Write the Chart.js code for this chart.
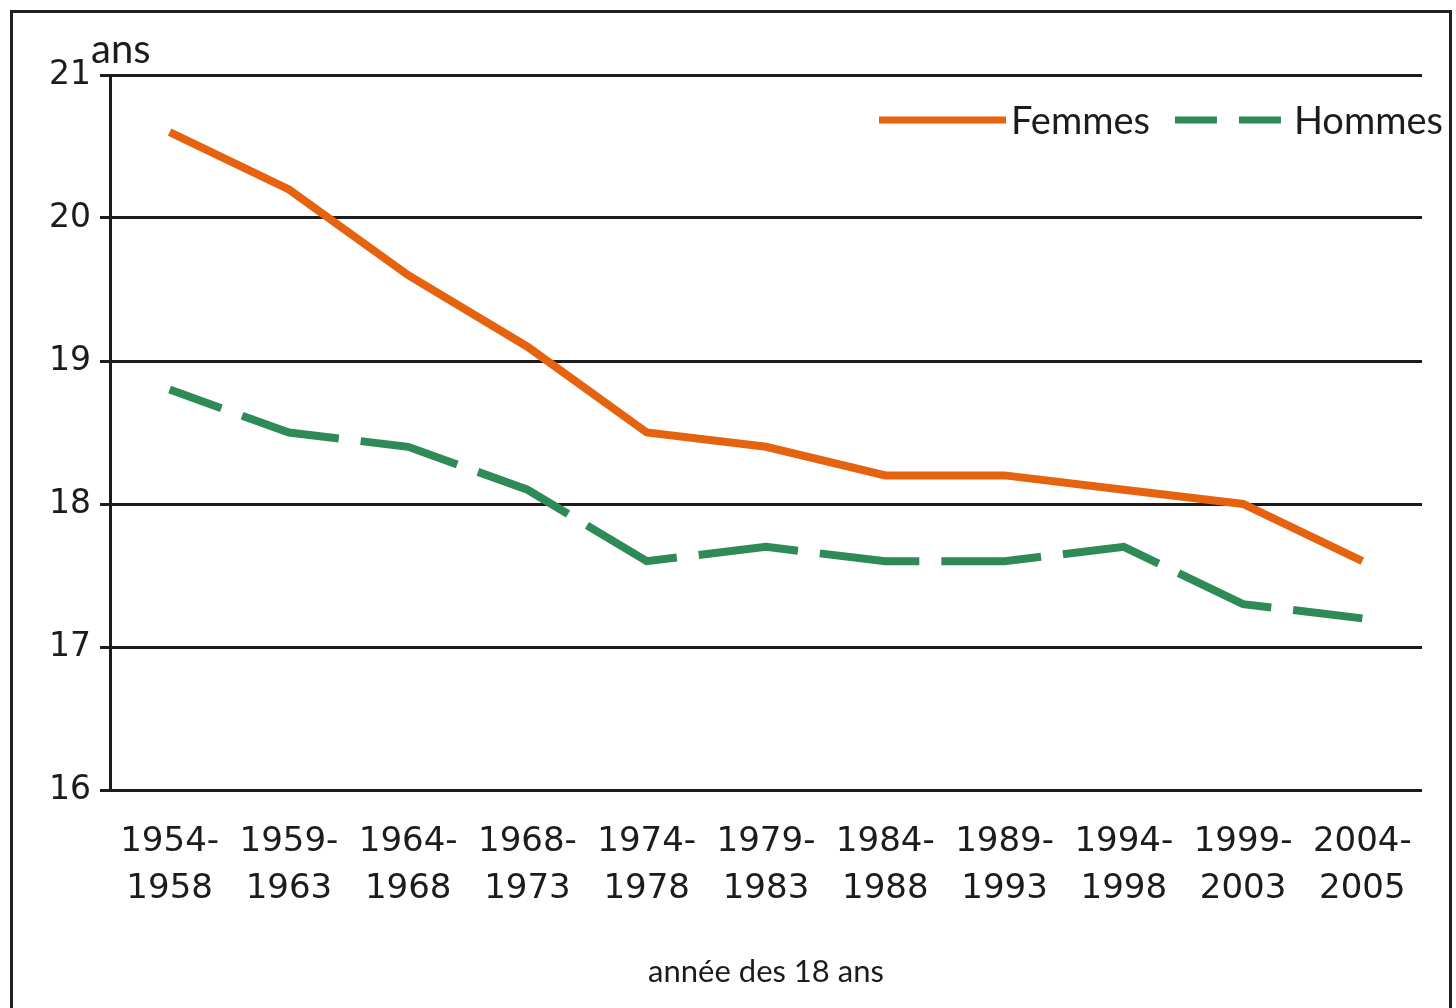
<!DOCTYPE html>
<html>
<head>
<meta charset="utf-8">
<script src="https://cdn.jsdelivr.net/npm/chart.js@4.4.0/dist/chart.umd.min.js"></script>
<style>
  html, body { margin: 0; padding: 0; background: #fff; }
  #wrap { position: relative; width: 1456px; height: 1008px; overflow: hidden; }
  #frame { position: absolute; left: 10px; top: 10px; width: 1442px; height: 1030px; border: 3px solid #222; box-sizing: border-box; }
  canvas { position: absolute; left: 0; top: 0; }
</style>
</head>
<body>
<div id="wrap">
  <div id="frame"></div>
  <canvas id="myChart" width="1456" height="1008"></canvas>
</div>
<script>
// données
const periodes = [
  ['1954-', '1958'], ['1959-', '1963'], ['1964-', '1968'], ['1968-', '1973'],
  ['1974-', '1978'], ['1979-', '1983'], ['1984-', '1988'], ['1989-', '1993'],
  ['1994-', '1998'], ['1999-', '2003'], ['2004-', '2005']
];
const femmes = [20.6, 20.2, 19.6, 19.1, 18.5, 18.4, 18.2, 18.2, 18.1, 18.0, 17.6];
const hommes = [18.8, 18.5, 18.4, 18.1, 17.6, 17.7, 17.6, 17.6, 17.7, 17.3, 17.2];
const yTicks = [16, 17, 18, 19, 20, 21];
const uniteY = 'ans';
const titreX = 'année des 18 ans';

const orange = '#E5620E';
const vert = '#2E8A57';
const encre = '#1c1c1c';

// legende dans la zone du graphique + unite "ans"
const legendeEtUnite = {
  id: 'legendeEtUnite',
  afterDraw(chart) {
    const ctx = chart.ctx;
    const area = chart.chartArea;
    ctx.save();
    ctx.fillStyle = encre;
    ctx.textBaseline = 'alphabetic';
    ctx.font = '40px Lato';
    ctx.fillText(uniteY, area.left - 19, area.top - 12);

    const lignes = [127, 114];
    const tirets = [[], [42, 22]];
    let x = area.right - 543;
    const y = 120;
    ctx.font = '38px Lato';
    chart.data.datasets.forEach((ds, i) => {
      ctx.save();
      ctx.strokeStyle = ds.borderColor;
      ctx.lineWidth = 7;
      ctx.setLineDash(tirets[i]);
      ctx.beginPath();
      ctx.moveTo(x, y);
      ctx.lineTo(x + lignes[i], y);
      ctx.stroke();
      ctx.restore();
      x += lignes[i] + 5;
      ctx.fillText(ds.label, x, y + 14);
      x += ctx.measureText(ds.label).width + 25;
    });
    ctx.restore();
  }
};

const context = document.getElementById('myChart').getContext('2d');
const myChart = new Chart(context, {
  type: 'line',
  data: {
    labels: periodes,
    datasets: [
      {
        label: 'Femmes',
        data: femmes,
        borderColor: orange,
        backgroundColor: orange,
        borderWidth: 8,
        pointRadius: 0,
        tension: 0,
        borderCapStyle: 'butt',
        borderJoinStyle: 'miter'
      },
      {
        label: 'Hommes',
        data: hommes,
        borderColor: vert,
        backgroundColor: vert,
        borderWidth: 8,
        borderDash: [100, 22],
        borderDashOffset: 45,
        pointRadius: 0,
        tension: 0,
        borderCapStyle: 'butt',
        borderJoinStyle: 'miter'
      }
    ]
  },
  options: {
    responsive: false,
    animation: false,
    layout: { padding: { top: 75, right: 34, left: 0, bottom: 0 } },
    plugins: {
      legend: { display: false },
      tooltip: { enabled: false }
    },
    scales: {
      x: {
        offset: true,
        grid: { display: false, drawTicks: false },
        border: { display: false },
        ticks: {
          font: { family: 'DejaVu Sans', size: 34, lineHeight: 1.38 },
          color: encre,
          padding: 29,
          maxRotation: 0,
          autoSkip: false
        },
        title: {
          display: true,
          text: titreX,
          font: { family: 'Lato', size: 31 },
          color: encre,
          padding: { top: 0, bottom: 17 }
        },
        afterFit(scale) { scale.height = 218; }
      },
      y: {
        min: 16,
        max: 21,
        afterBuildTicks(scale) { scale.ticks = yTicks.map(v => ({ value: v })); },
        grid: { color: encre, lineWidth: 3, tickLength: 10, drawTicks: true },
        border: { display: true, color: encre, width: 3 },
        ticks: {
          font: { family: 'DejaVu Sans', size: 33 },
          color: encre,
          padding: 9
        },
        afterFit(scale) { scale.width = 110; }
      }
    }
  },
  plugins: [legendeEtUnite]
});
</script>
</body>
</html>
